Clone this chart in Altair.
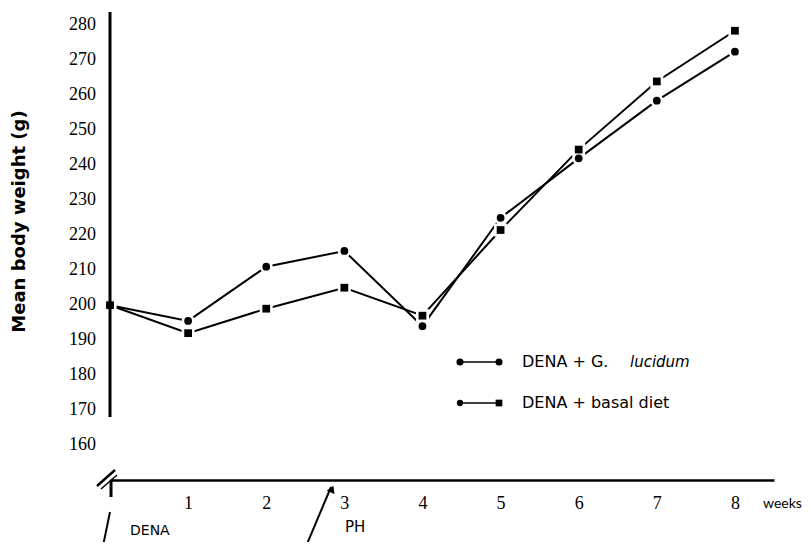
import altair as alt
import pandas as pd

weeks = [0, 1, 2, 3, 4, 5, 6, 7, 8]
lucidum = [200, 195.5, 211, 215.5, 194, 225, 242, 258.5, 272.5]
basal = [200, 192, 199, 205, 197, 221.5, 244.5, 264, 278.5]
y_ticks = [160, 170, 180, 190, 200, 210, 220, 230, 240, 250, 260, 270, 280]
x_ticks = [1, 2, 3, 4, 5, 6, 7, 8]

rows = []
for w, a, b in zip(weeks, lucidum, basal):
    rows.append({"week": w, "weight": a, "series": "DENA + G. lucidum"})
    rows.append({"week": w, "weight": b, "series": "DENA + basal diet"})
df = pd.DataFrame(rows)
ytick_df = pd.DataFrame({"weight": y_ticks})

W, H = 664, 465
xs = alt.Scale(domain=[0, 8.5], nice=False, zero=False)
ys = alt.Scale(domain=[150, 283], nice=False, zero=False)
shape_scale = alt.Scale(domain=["DENA + G. lucidum", "DENA + basal diet"], range=["circle", "square"])

base = alt.Chart(df)
x_enc = alt.X("week:Q", scale=xs, axis=alt.Axis(
    values=x_ticks, format="d", title=None, ticks=False, grid=False, domainColor="black",
    domainWidth=2.5, labelFont="Liberation Serif", labelFontSize=18, labelOverlap=False,
    labelColor="black", labelPadding=14))
y_enc = alt.Y("weight:Q", scale=ys, axis=alt.Axis(
    title="Mean body weight (g)", ticks=False, grid=False, domain=False, labels=False,
    titleFont="DejaVu Sans", titleFontSize=18, titleFontWeight="bold", titleColor="black",
    titleX=-91, titleY=206, titleAngle=270, titleAlign="center", titleBaseline="middle"))

lines = base.mark_line(color="black", strokeWidth=2).encode(x=x_enc, y=y_enc, detail="series:N")
halo = base.mark_point(filled=True, color="white", opacity=1, size=170).encode(
    x=x_enc, y=y_enc, shape=alt.Shape("series:N", scale=shape_scale, legend=None))
pts = base.mark_point(filled=True, color="black", opacity=1, size=60).encode(
    x=x_enc, y=y_enc, shape=alt.Shape("series:N", scale=shape_scale, legend=None))

ylabels = alt.Chart(ytick_df).mark_text(
    align="right", baseline="middle", font="Liberation Serif", fontSize=18, color="black"
).encode(x=alt.value(-14), y=y_enc, text=alt.Text("weight:Q", format="d"))

one = pd.DataFrame({"a": [0]})
def rule(x1, y1, x2, y2, w=2):
    return alt.Chart(one).mark_rule(color="black", strokeWidth=w, strokeCap="butt").encode(
        x=alt.value(x1), y=alt.value(y1), x2=alt.value(x2), y2=alt.value(y2))

def text(t, x, y, size=16, align="left", style="normal", font="DejaVu Sans"):
    return alt.Chart(one).mark_text(text=t, align=align, baseline="middle", fontSize=size,
                                   fontStyle=style, font=font, color="black").encode(
        x=alt.value(x), y=alt.value(y))

def dot(x, y, shape, size):
    return alt.Chart(one).mark_point(shape=shape, filled=True, color="black", opacity=1,
                                    size=size).encode(x=alt.value(x), y=alt.value(y))

annos = [
    rule(0, -3, 0, 402, 3),            # vertical y-axis line (broken before the baseline)
    rule(-13, 471, 5, 455, 2.5),       # axis break marks
    rule(-9, 474, 7, 460, 1.5),
    rule(1, 465, 1, 482, 3),
    rule(-7, 531, 0, 497, 2),          # DENA arrow
    text("DENA", 20, 516, size=14),
    rule(197, 529, 221, 472, 2),       # PH arrow
    rule(197, 529, 266, 529, 2),
    alt.Chart(one).mark_point(shape="triangle-up", filled=True, color="black", opacity=1,
                              size=70, angle=22).encode(x=alt.value(222), y=alt.value(474)),
    text("PH", 235, 512, size=15),
    text("weeks", 653, 489, size=14, font="Lato"),
    # legend
    rule(353, 347, 386, 347, 1.5),
    dot(350, 347, "circle", 50),
    dot(389, 347, "circle", 50),
    text("DENA + G.", 412, 347),
    text("lucidum", 520, 347, size=15, style="italic"),
    rule(353, 388, 386, 388, 1.5),
    dot(350, 388, "circle", 40),
    dot(389, 388, "square", 45),
    text("DENA + basal diet", 412, 388),
]

chart = alt.layer(lines, halo, pts, ylabels, *annos).properties(
    width=W, height=H, background="white",
    autosize=alt.AutoSizeParams(type="none"),
    padding={"left": 102, "top": 7, "right": 29, "bottom": 62},
).configure_view(strokeWidth=0, stroke=None)

chart.save("out.html", embed_options={"renderer": "svg", "actions": False})
